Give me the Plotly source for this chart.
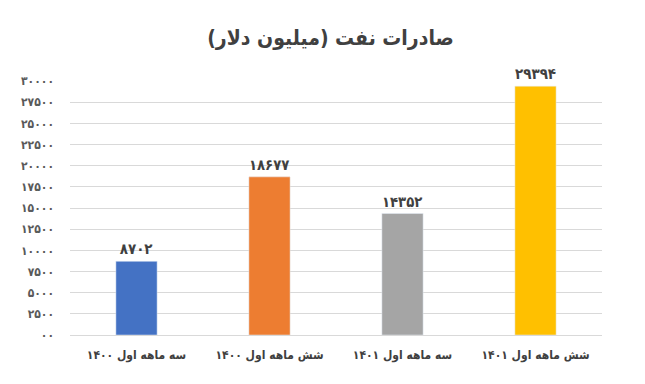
import plotly.graph_objects as go

categories = ["سه ماهه اول ۱۴۰۰", "شش ماهه اول ۱۴۰۰", "سه ماهه اول ۱۴۰۱", "شش ماهه اول ۱۴۰۱"]
values = [8702, 18677, 14352, 29394]
value_labels = ["۸۷۰۲", "۱۸۶۷۷", "۱۴۳۵۲", "۲۹۳۹۴"]
colors = ["#4472C4", "#ED7D31", "#A5A5A5", "#FFC000"]
tick_vals = [0, 2500, 5000, 7500, 10000, 12500, 15000, 17500, 20000, 22500, 25000, 27500, 30000]
tick_text = ["۰۰", "۲۵۰۰", "۵۰۰۰", "۷۵۰۰", "۱۰۰۰۰", "۱۲۵۰۰", "۱۵۰۰۰", "۱۷۵۰۰",
             "۲۰۰۰۰", "۲۲۵۰۰", "۲۵۰۰۰", "۲۷۵۰۰", "۳۰۰۰۰"]
title = "صادرات نفت (میلیون دلار)"

font_family = "DejaVu Sans Condensed, DejaVu Sans"

fig = go.Figure(go.Bar(
    x=categories, y=values, marker_color=colors, width=0.31,
    text=value_labels, textposition="outside", cliponaxis=False,
    textfont=dict(family=font_family, size=15, color="#404040", weight="bold"),
))

fig.update_layout(
    width=645, height=384,
    margin=dict(l=62, r=51, t=73, b=57),
    paper_bgcolor="white", plot_bgcolor="white",
    title=dict(text=title, x=0.5, xanchor="center", y=0.924, yanchor="middle",
               font=dict(family=font_family, size=21, color="#404040", weight="bold")),
    showlegend=False,
    font=dict(family=font_family),
)
fig.update_yaxes(range=[0, 30000], tickvals=tick_vals, ticktext=tick_text,
                 showgrid=True, gridcolor="#D9D9D9", gridwidth=1, zeroline=False,
                 showline=False, ticks="", ticklabelstandoff=15,
                 tickfont=dict(family=font_family, size=12, color="#595959", weight="bold"))
fig.update_xaxes(showline=True, linecolor="#D9D9D9", linewidth=1, ticks="",
                 ticklabelstandoff=9,
                 tickfont=dict(family=font_family, size=12, color="#404040", weight="bold"))

fig.write_html("out.html")
